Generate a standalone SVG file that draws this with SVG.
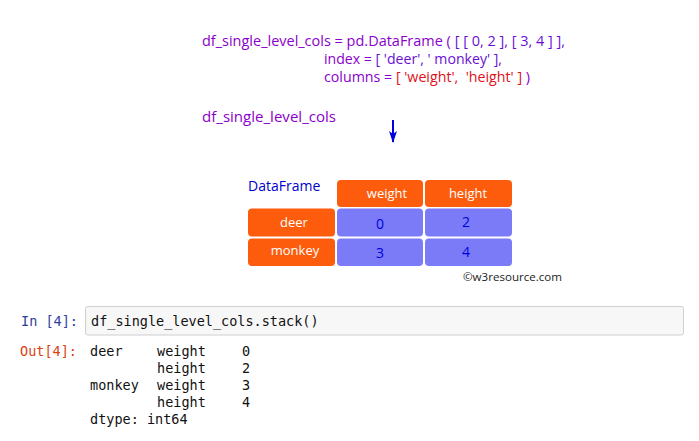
<svg xmlns="http://www.w3.org/2000/svg" width="699" height="441" viewBox="0 0 699 441">
<style>
.code{font-family:"Open Sans","Noto Sans",sans-serif;font-size:14px;fill:#8a00cc}
.code2{fill:#6a10d6}
.red{fill:#e0101a}
.org{fill:#fc5c0c}
.blu{fill:#7b7bf7}
.hd{font-family:"Open Sans","Noto Sans",sans-serif;font-size:13px;fill:#ffffff;text-anchor:middle}
.val{font-family:"Open Sans","Noto Sans",sans-serif;font-size:14px;fill:#0000dd;text-anchor:middle}
.mono{font-family:"DejaVu Sans Mono","Liberation Mono",monospace;font-size:13.5px;fill:#111}
.inp{fill:#303f9f}
.out{fill:#d84315}
</style>
<defs>
<marker id="ah" viewBox="0 0 12 8" refX="11" refY="4" markerWidth="6" markerHeight="4" orient="auto" markerUnits="strokeWidth">
<path d="M0,0 L12,4 L0,8 L3,4 Z" fill="#0000dd"/>
</marker>
</defs>
<rect width="699" height="441" fill="#ffffff"/>
<g id="code">
<text class="code" x="202" y="46" textLength="363" lengthAdjust="spacingAndGlyphs">df_single_level_cols = pd.DataFrame (<tspan class="code2"> [ [ 0, 2 ], [ 3, 4 ] ],</tspan></text>
<text class="code" x="324" y="64" textLength="178" lengthAdjust="spacingAndGlyphs">index = <tspan class="code2">[ 'deer', ' monkey' ],</tspan></text>
<text class="code" x="324" y="82" xml:space="preserve" textLength="206" lengthAdjust="spacingAndGlyphs">columns = <tspan class="red">[ 'weight',  'height' ]</tspan> )</text>
<text class="code" x="202" y="122" textLength="134" lengthAdjust="spacingAndGlyphs">df_single_level_cols</text>
</g>
<g id="connectors">
<line x1="393" y1="120" x2="393" y2="142" stroke="#0000dd" stroke-width="2" marker-end="url(#ah)"/>
</g>
<g id="dataframe">
<text x="248" y="191" font-family="Open Sans, Noto Sans, sans-serif" font-size="14" fill="#0000cc">DataFrame</text>
<rect class="org" x="337" y="180" width="86" height="27" rx="4"/>
<rect class="org" x="425" y="180" width="87" height="27" rx="4"/>
<text class="hd" x="387" y="198">weight</text>
<text class="hd" x="468" y="198">height</text>
<rect class="org" x="248" y="208.5" width="87" height="28" rx="4"/>
<rect class="blu" x="337" y="208.5" width="86" height="28" rx="4"/>
<rect class="blu" x="425" y="208.5" width="87" height="28" rx="4"/>
<text class="hd" x="294" y="227">deer</text>
<text class="val" x="380" y="229">0</text>
<text class="val" x="466" y="227">2</text>
<rect class="org" x="248" y="238.5" width="87" height="27.5" rx="4"/>
<rect class="blu" x="337" y="238.5" width="86" height="27.5" rx="4"/>
<rect class="blu" x="425" y="238.5" width="87" height="27.5" rx="4"/>
<text class="hd" x="295" y="255">monkey</text>
<text class="val" x="380" y="258">3</text>
<text class="val" x="466" y="257">4</text>
<text x="463" y="281" font-family="Open Sans, Noto Sans, sans-serif" font-size="11" fill="#222" textLength="99" lengthAdjust="spacingAndGlyphs">©w3resource.com</text>
</g>
<g id="notebook">
<rect x="85.5" y="306.5" width="598" height="28.5" rx="2" fill="#f7f7f7" stroke="#cfcfcf"/>
<text class="mono inp" x="21" y="326">In [4]:</text>
<text class="mono" x="91" y="326">df_single_level_cols.stack()</text>
<text class="mono out" x="20" y="356">Out[4]:</text>
<text class="mono" x="90" y="356">deer</text>
<text class="mono" x="157" y="356">weight</text>
<text class="mono" x="242" y="356">0</text>
<text class="mono" x="157" y="373">height</text>
<text class="mono" x="242" y="373">2</text>
<text class="mono" x="90" y="390">monkey</text>
<text class="mono" x="157" y="390">weight</text>
<text class="mono" x="242" y="390">3</text>
<text class="mono" x="157" y="407">height</text>
<text class="mono" x="242" y="407">4</text>
<text class="mono" x="90" y="424">dtype: int64</text>
</g>
</svg>
